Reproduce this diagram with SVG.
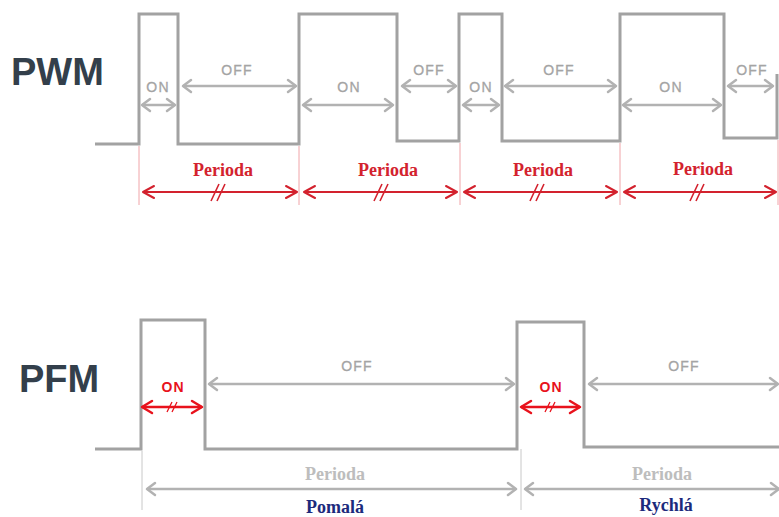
<svg xmlns="http://www.w3.org/2000/svg" width="779" height="517" viewBox="0 0 779 517">
<style>
.wave{fill:none;stroke:#a2a2a2;stroke-width:3;stroke-linejoin:miter}
.ga{fill:none;stroke:#b2b2b2;stroke-width:2.5;marker-start:url(#gh);marker-end:url(#gh)}
.ra{fill:none;stroke:#d3222e;stroke-width:2;marker-start:url(#rh);marker-end:url(#rh)}
.pa{fill:none;stroke:#e8121c;stroke-width:2.5;marker-start:url(#ph);marker-end:url(#ph)}
.rv{stroke:#f0a4a8;stroke-width:1}
.gv{stroke:#c8c8c8;stroke-width:1}
.hash{stroke:#d3222e;stroke-width:1.6}
.phash{stroke:#e8121c;stroke-width:1.3}
.big{font-family:"Liberation Sans",Arial,sans-serif;font-weight:bold;font-size:38px;fill:#333f4b}
.gl{font-family:"Liberation Sans",Arial,sans-serif;font-size:14px;fill:#a4a4a4;text-anchor:middle;letter-spacing:1.2px;stroke:#a4a4a4;stroke-width:0.3}
.rl{font-family:"Liberation Sans",Arial,sans-serif;font-size:14px;font-weight:bold;fill:#e8121c;text-anchor:middle;letter-spacing:1px}
.per{font-family:"Liberation Serif","Times New Roman",serif;font-weight:bold;font-size:18px;fill:#d3222e;text-anchor:middle}
.gper{font-family:"Liberation Serif","Times New Roman",serif;font-weight:bold;font-size:18px;fill:#bdbdbd;text-anchor:middle}
.bl{font-family:"Liberation Serif","Times New Roman",serif;font-weight:bold;font-size:18px;fill:#1c2a7c;text-anchor:middle}
</style>
<defs>
<marker id="gh" markerUnits="userSpaceOnUse" viewBox="-12 -9 14 18" markerWidth="14" markerHeight="18" refX="0" refY="0" orient="auto-start-reverse">
<path d="M-8,-6 L0,0 L-8,6" fill="none" stroke="#b2b2b2" stroke-width="2.5" stroke-linecap="round" stroke-linejoin="round"/>
</marker>
<marker id="rh" markerUnits="userSpaceOnUse" viewBox="-14 -9 16 18" markerWidth="16" markerHeight="18" refX="0" refY="0" orient="auto-start-reverse">
<path d="M-11,-6 L0,0 L-11,6" fill="none" stroke="#d3222e" stroke-width="2" stroke-linecap="round" stroke-linejoin="round"/>
</marker>
<marker id="ph" markerUnits="userSpaceOnUse" viewBox="-14 -9 16 18" markerWidth="16" markerHeight="18" refX="0" refY="0" orient="auto-start-reverse">
<path d="M-10,-6 L0,0 L-10,6" fill="none" stroke="#e8121c" stroke-width="2.5" stroke-linecap="round" stroke-linejoin="round"/>
</marker>
</defs>
<rect width="779" height="517" fill="#ffffff"/>

<g id="pwm">
<text class="big" x="11" y="85">PWM</text>
<path class="wave" d="M95,144 H139 V14 H178 V144 H299 V14 H397 V141 H459 V14 H502 V141 H620 V14 H724 V138 H777 V74"/>
</g>

<g id="pwm-labels">
<text class="gl" x="158" y="92">ON</text>
<text class="gl" x="237" y="75">OFF</text>
<text class="gl" x="349" y="92">ON</text>
<text class="gl" x="429" y="75">OFF</text>
<text class="gl" x="481" y="92">ON</text>
<text class="gl" x="559" y="75">OFF</text>
<text class="gl" x="671" y="92">ON</text>
<text class="gl" x="752" y="75">OFF</text>
<text class="per" x="223" y="176">Perioda</text>
<text class="per" x="388" y="176">Perioda</text>
<text class="per" x="543" y="176">Perioda</text>
<text class="per" x="703" y="175">Perioda</text>
</g>

<g id="pfm">
<text class="big" x="19" y="392">PFM</text>
<path class="wave" d="M95,449 H141 V320 H205 V449 H517 V322 H584 V447 H779"/>
</g>

<g id="pfm-labels">
<text class="rl" x="173" y="392">ON</text>
<text class="gl" x="357" y="371">OFF</text>
<text class="rl" x="551" y="392">ON</text>
<text class="gl" x="684" y="371">OFF</text>
<text class="gper" x="335" y="480">Perioda</text>
<text class="gper" x="662" y="480">Perioda</text>
<text class="bl" x="335" y="513">Pomalá</text>
<text class="bl" x="666" y="511">Rychlá</text>
</g>

<g id="connectors">
<line class="ga" x1="142" y1="105" x2="175" y2="105"/>
<line class="ga" x1="183" y1="86" x2="296" y2="86"/>
<line class="ga" x1="303" y1="105" x2="393" y2="105"/>
<line class="ga" x1="402" y1="86" x2="456" y2="86"/>
<line class="ga" x1="463" y1="105" x2="499" y2="105"/>
<line class="ga" x1="505" y1="86" x2="616" y2="86"/>
<line class="ga" x1="623" y1="105" x2="721" y2="105"/>
<line class="ga" x1="728" y1="86" x2="773" y2="86"/>

<line class="rv" x1="139" y1="146" x2="139" y2="205"/>
<line class="rv" x1="299" y1="146" x2="299" y2="205"/>
<line class="rv" x1="460" y1="143" x2="460" y2="205"/>
<line class="rv" x1="620" y1="143" x2="620" y2="205"/>
<line class="rv" x1="778" y1="140" x2="778" y2="205"/>

<line class="ra" x1="143" y1="192" x2="297" y2="192"/>
<line class="ra" x1="304" y1="192" x2="457" y2="192"/>
<line class="ra" x1="464" y1="192" x2="617" y2="192"/>
<line class="ra" x1="624" y1="192" x2="776" y2="192"/>
<path class="hash" d="M211,201 L219,184 M217,201 L225,184"/>
<path class="hash" d="M374,201 L382,184 M380,201 L388,184"/>
<path class="hash" d="M530,201 L538,184 M536,201 L544,184"/>
<path class="hash" d="M690,201 L698,184 M696,201 L704,184"/>

<line class="pa" x1="142" y1="407" x2="202" y2="407"/>
<path class="phash" d="M167,412 L172,402 M172,412 L177,402"/>
<line class="ga" x1="209" y1="384" x2="514" y2="384"/>
<line class="pa" x1="521" y1="407" x2="580" y2="407"/>
<path class="phash" d="M545,412 L550,402 M550,412 L555,402"/>
<line class="ga" x1="589" y1="384" x2="778" y2="384"/>

<line class="gv" x1="142" y1="451" x2="142" y2="510"/>
<line class="gv" x1="521" y1="449" x2="521" y2="510"/>
<line class="ga" x1="147" y1="489" x2="516" y2="489"/>
<line class="ga" x1="525" y1="489" x2="779" y2="489"/>
</g>
</svg>
